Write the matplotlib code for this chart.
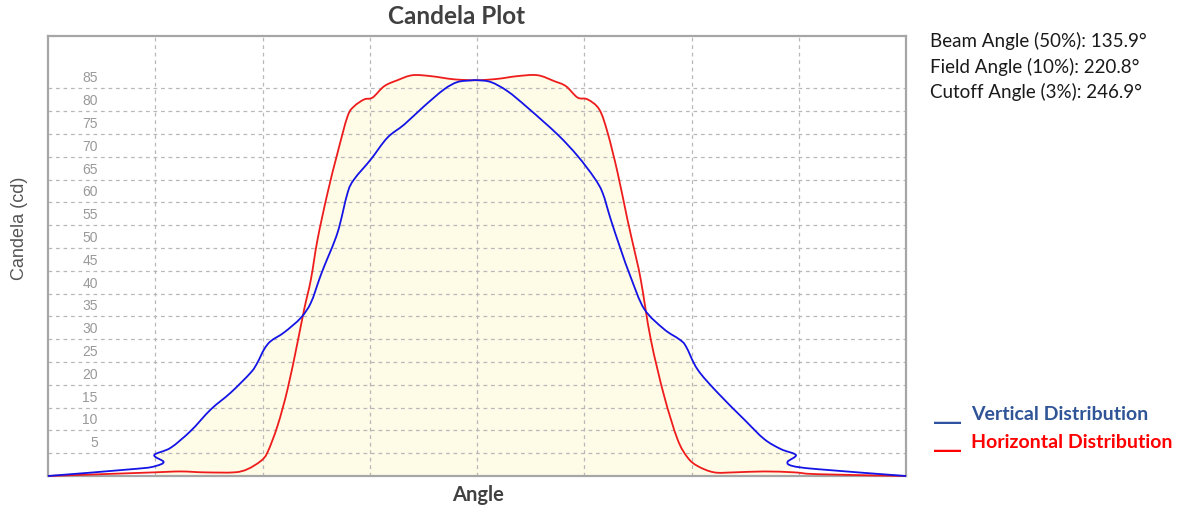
import numpy as np
import matplotlib
matplotlib.use("Agg")
import matplotlib.pyplot as plt
from matplotlib.path import Path
from matplotlib.patches import PathPatch
from matplotlib.transforms import offset_copy

# vertical distribution (blue), angle in degrees, candela
vert_angle = [-180, -142.4, -134.8, -131.5, -135.4, -128.5, -120.1, -111.7, -103.3,
              -94.9, -92.1, -89.3, -86.5, -80.9, -73.9, -69.7, -66.2, -64.1, -58.5,
              -54.3, -51.5, -44.6, -37.6, -30.5, -22.2, -13.8, -8.2, -2.6, 0,
              5.8, 12.8, 21.2, 33.8, 42.2, 49.2, 52.7, 56.1, 60.3, 64.5, 70.2, 78.5,
              84.8, 87.6, 92.5, 100.9, 112.1, 120.5, 127.5, 133.8, 130.3, 132.4,
              142.9, 180]
vert_cd = [0, 1.6, 2.2, 3.1, 4.6, 6.2, 9.9, 14.6, 18.3,
           22.7, 24.9, 27.8, 29.6, 31.5, 34.7, 38.0, 43.1, 46.0, 53.4,
           62.1, 65.1, 69.4, 74.2, 77.1, 81.1, 84.8, 86.4, 86.75, 86.8,
           86.4, 84.4, 80.8, 74.9, 70.2, 65.4, 62.1, 56.3, 49.7, 43.6, 36.6, 32.2,
           30.0, 28.5, 23.4, 18.3, 12.4, 8.1, 5.9, 4.6, 3.1, 2.2,
           1.5, 0]

# horizontal distribution (red)
horiz_angle = [-180, -135.3, -124.3, -114.5, -101.9, -96.3, -90.7, -87.9, -83.7,
               -79.5, -75.3, -72.5, -69.7, -66.9, -62.7, -58.5, -54.3, -51.5,
               -47.3, -43.8, -38.9, -33.4, -27.1, -19.4, -9.6, 0,
               8.6, 17.0, 25.4, 32.4, 37.3, 42.2, 46.4, 51.3, 54.8, 59.0, 63.1,
               66.0, 68.7, 72.9, 78.5, 84.1, 88.3, 92.5, 99.5, 107.9, 120.5,
               133.1, 142.9, 180]
horiz_cd = [0, 0.8, 1.0, 0.8, 0.8, 1.5, 3.3, 5.2, 11.0,
            19.0, 29.3, 36.6, 43.1, 51.9, 62.1, 70.9, 78.9, 81.1,
            82.6, 83.0, 85.5, 86.8, 87.9, 87.7, 87.0, 86.8,
            87.1, 87.7, 87.9, 86.6, 85.5, 83.0, 82.6, 80.4, 75.3, 66.5, 56.3,
            49.6, 43.1, 30.0, 17.6, 8.1, 4.1, 2.2, 0.8, 0.8, 1.0,
            0.8, 0.4, 0]

y_ticks = [5, 10, 15, 20, 25, 30, 35, 40, 45, 50, 55, 60, 65, 70, 75, 80, 85]
x_grid = [-135, -90, -45, 0, 45, 90, 135]

angle_text = ["Beam Angle (50%): 135.9\u00b0",
              "Field Angle (10%): 220.8\u00b0",
              "Cutoff Angle (3%): 246.9\u00b0"]

FILL = "#fefbe6"
BLUE = "#1414e6"
RED = "#ee1c1c"


def smooth_path(xs, ys, close=False):
    # catmull-rom through the read points, drawn as cubic bezier pieces
    p = np.column_stack([xs, ys]).astype(float)
    ext = np.vstack([p[0], p, p[-1]])
    verts = [p[0]]
    codes = [Path.MOVETO]
    for i in range(1, len(ext) - 2):
        c1 = ext[i] + (ext[i + 1] - ext[i - 1]) / 6.0
        c2 = ext[i + 1] - (ext[i + 2] - ext[i]) / 6.0
        verts += [c1, c2, ext[i + 1]]
        codes += [Path.CURVE4] * 3
    if close:
        verts += [(xs[-1], 0), (xs[0], 0), p[0]]
        codes += [Path.LINETO, Path.LINETO, Path.CLOSEPOLY]
    return Path(verts, codes)


fig = plt.figure(figsize=(11.78, 5.12), dpi=100)
ax = fig.add_axes([48 / 1178, 36 / 512, 858 / 1178, 440 / 512])
ax.set_xlim(-180, 180)
ax.set_ylim(0, 96.5)

# light fill under both curves between -135 and 135
for xs, ys in ((vert_angle, vert_cd), (horiz_angle, horiz_cd)):
    xs = np.array(xs)
    ys = np.array(ys)
    m = (xs >= -135.5) & (xs <= 135.5)
    ax.add_patch(PathPatch(smooth_path(xs[m], ys[m], close=True),
                           facecolor=FILL, lw=0, zorder=1))

ax.set_yticks(y_ticks)
ax.set_xticks(x_grid)
ax.grid(True, color="#b8b8b8", linestyle=(0, (3, 3)), linewidth=0.9, zorder=2)
ax.tick_params(length=0, labelbottom=False, labelleft=False)

ax.add_patch(PathPatch(smooth_path(vert_angle, vert_cd), facecolor="none",
                       edgecolor=BLUE, lw=1.3, zorder=4, clip_on=False))
ax.add_patch(PathPatch(smooth_path(horiz_angle, horiz_cd), facecolor="none",
                       edgecolor=RED, lw=1.3, zorder=3, clip_on=False))

# value labels sit inside the plot, a bit above each grid line
lab_tr = offset_copy(ax.get_yaxis_transform(), fig=fig, x=0, y=10, units="dots")
for v in y_ticks:
    ax.text(0.058, v, str(v), transform=lab_tr, ha="right", va="center",
            color="#999999", fontsize=10, family="Liberation Sans")

for s in ax.spines.values():
    s.set_color("#a6a6a6")
    s.set_linewidth(1.6)

fig.text(457 / 1178, 1 - 17 / 512, "Candela Plot", fontsize=17.5,
         fontweight="bold", color="#404040", family="Lato",
         ha="center", va="center")
fig.text(478 / 1178, 1 - 495 / 512, "Angle", fontsize=14.5, fontweight="bold",
         color="#404040", family="Lato", ha="center", va="center")
fig.text(20 / 1178, 1 - 228 / 512, "Candela (cd)", fontsize=13,
         color="#555555", family="Liberation Sans", rotation=90,
         ha="center", va="center")

for i, t in enumerate(angle_text):
    fig.text(930 / 1178, 1 - (41 + i * 25.5) / 512, t, fontsize=13.5,
             family="Lato", color="#1a1a1a", va="center", ha="left")

fig.text(934 / 1178, 1 - 415 / 512, "___", fontsize=13, fontweight="bold",
         family="DejaVu Sans", color="#2f52a0", va="center")
fig.text(971 / 1178, 1 - 415 / 512, "Vertical Distribution", fontsize=14,
         fontweight="bold", family="Lato", color="#2f5597", va="center")
fig.text(934 / 1178, 1 - 443 / 512, "___", fontsize=13, fontweight="bold",
         family="DejaVu Sans", color="#ff0000", va="center")
fig.text(971 / 1178, 1 - 443 / 512, "Horizontal Distribution", fontsize=14,
         fontweight="bold", family="Lato", color="#ff0000", va="center")

fig.savefig("out.png", dpi=100)
